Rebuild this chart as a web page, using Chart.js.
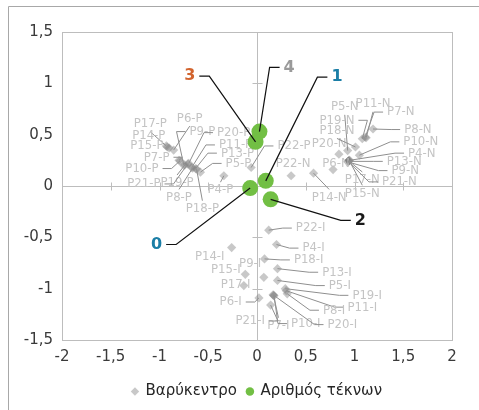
<!DOCTYPE html>
<html>
<head>
<meta charset="utf-8">
<script src="https://cdn.jsdelivr.net/npm/chart.js@4.4.0/dist/chart.umd.min.js"></script>
<style>
  html, body { margin: 0; padding: 0; background: #fff; }
  #wrap { width: 479px; height: 410px; }
</style>
</head>
<body>
<div id="wrap"><canvas id="chart" width="479" height="410"></canvas></div>
<script>
// Βαρύκεντρο points (P = left group, N = right group, I = lower group)
const pointNames = [
    'P17-P', 'P14-P', 'P15-P', 'P6-P', 'P7-P', 'P10-P', 'P9-P', 'P19-P', 'P20-P', 'P21-P', 'P11-P', 'P8-P', 'P13-P', 'P18-P', 'P5-P', 'P4-P', 'P22-P',
    'P22-N', 'P14-N', 'P6-N', 'P20-N', 'P5-N', 'P18-N', 'P19-N', 'P11-N', 'P7-N', 'P8-N', 'P10-N', 'P4-N', 'P13-N', 'P9-N', 'P17-N', 'P21-N', 'P15-N',
    'P22-I', 'P4-I', 'P14-I', 'P18-I', 'P13-I', 'P15-I', 'P9-I', 'P5-I', 'P17-I', 'P19-I', 'P11-I', 'P8-I', 'P6-I', 'P7-I', 'P10-I', 'P20-I', 'P21-I'
];
const pointX = [
    -0.93, -0.92, -0.90, -0.855, -0.80, -0.79, -0.75, -0.74, -0.70, -0.71, -0.67, -0.66, -0.63, -0.62, -0.58, -0.34, -0.06,
    0.35, 0.58, 0.78, 0.84, 0.93, 1.01, 1.08, 1.12, 1.11, 1.19, 1.05, 0.95, 0.94, 0.93, 0.94, 0.935, 0.945,
    0.12, 0.20, -0.26, 0.077, 0.21, -0.12, 0.07, 0.21, -0.135, 0.29, 0.30, 0.31, 0.02, 0.17, 0.175, 0.165, 0.14
];
const pointY = [
    0.39, 0.38, 0.37, 0.35, 0.25, 0.245, 0.20, 0.205, 0.22, 0.215, 0.18, 0.175, 0.17, 0.165, 0.135, 0.10, 0.18,
    0.10, 0.125, 0.16, 0.31, 0.345, 0.38, 0.46, 0.47, 0.475, 0.555, 0.30, 0.25, 0.24, 0.235, 0.245, 0.24, 0.25,
    -0.43, -0.57, -0.60, -0.71, -0.805, -0.86, -0.89, -0.92, -0.97, -1.0, -1.02, -1.05, -1.09, -1.065, -1.07, -1.06, -1.16
];
// where each point label sits (data units)
const pointLabelX = [
    -1.095, -1.11, -1.13, -0.69, -1.03, -1.18, -0.56, -0.82, -0.24, -1.16, -0.22, -0.80, -0.20, -0.56, -0.19, -0.375, 0.38,
    0.37, 0.74, 0.81, 0.74, 0.90, 0.82, 0.82, 1.19, 1.475, 1.65, 1.68, 1.69, 1.51, 1.52, 1.08, 1.46, 1.08,
    0.55, 0.58, -0.485, 0.53, 0.82, -0.32, -0.07, 0.85, -0.22, 1.13, 1.08, 0.79, -0.27, 0.22, 0.50, 0.875, -0.07
];
const pointLabelY = [
    0.605, 0.49, 0.39, 0.66, 0.28, 0.17, 0.53, 0.03, 0.52, 0.02, 0.40, -0.11, 0.32, -0.22, 0.22, -0.04, 0.39,
    0.22, -0.11, 0.22, 0.41, 0.77, 0.54, 0.64, 0.80, 0.72, 0.55, 0.43, 0.32, 0.24, 0.15, 0.06, 0.04, -0.07,
    -0.41, -0.605, -0.69, -0.72, -0.84, -0.815, -0.76, -0.97, -0.96, -1.065, -1.18, -1.21, -1.13, -1.36, -1.34, -1.35, -1.315
];

// Αριθμός τέκνων
const childNames = ['0', '1', '2', '3', '4'];
const childX = [-0.07, 0.09, 0.14, -0.015, 0.025];
const childY = [-0.02, 0.05, -0.13, 0.43, 0.53];
const childLabelX = [-1.03, 0.82, 1.06, -0.69, 0.33];
const childLabelY = [-0.57, 1.06, -0.335, 1.07, 1.155];
const childLabelColors = ['#1b7ea6', '#1b7ea6', '#1a1a1a', '#d2642e', '#9a9a9a'];

const seriesNames = ['Βαρύκεντρο', 'Αριθμός τέκνων'];

const tickFont = { family: 'DejaVu Sans', size: 15 };
const fmt = v => String(v).replace('.', ',');

// draw a text label, with a leader line back to its point when it sits away from it
function drawLabel(ctx, px, py, lx, ly, text, opts) {
    ctx.font = opts.font;
    const w = ctx.measureText(text).width;
    const h = opts.size * 0.75;
    const left = lx - w / 2, right = lx + w / 2;
    const top = ly - h / 2 - 1, bottom = ly + h / 2 + 1;
    const dx = Math.max(left - px, 0, px - right);
    const dy = Math.max(top - py, 0, py - bottom);
    if (Math.hypot(dx, dy) > opts.minDist) {
        ctx.strokeStyle = opts.lineColor;
        ctx.lineWidth = opts.lineWidth;
        ctx.beginPath();
        if (px < left - 4) {
            ctx.moveTo(left - 4, ly);
            ctx.lineTo(left - 4 - opts.stub, ly);
            ctx.lineTo(px, py);
        } else if (px > right + 4) {
            ctx.moveTo(right + 4, ly);
            ctx.lineTo(right + 4 + opts.stub, ly);
            ctx.lineTo(px, py);
        } else {
            ctx.moveTo(lx, py < top ? top - 2 : bottom + 2);
            ctx.lineTo(px, py);
        }
        ctx.stroke();
    }
    ctx.fillStyle = opts.color;
    ctx.textAlign = 'center';
    ctx.textBaseline = 'middle';
    ctx.fillText(text, lx, ly);
}

const frameAndAxes = {
    id: 'frameAndAxes',
    beforeDraw(chart) {
        const ctx = chart.ctx;
        ctx.save();
        ctx.strokeStyle = '#a8a8a8';
        ctx.lineWidth = 1;
        ctx.beginPath();
        ctx.moveTo(8.5, 410);
        ctx.lineTo(8.5, 6.5);
        ctx.lineTo(479, 6.5);
        ctx.stroke();
        ctx.restore();
    },
    beforeDatasetsDraw(chart) {
        const { ctx, chartArea: a, scales: { x, y } } = chart;
        ctx.save();
        ctx.strokeStyle = '#bdbdbd';
        ctx.lineWidth = 1;
        const l = Math.round(a.left) + 0.5, r = Math.round(a.right) + 0.5;
        const t = Math.round(a.top) + 0.5, b = Math.round(a.bottom) + 0.5;
        ctx.strokeRect(l, t, r - l, b - t);
        const x0 = Math.round(x.getPixelForValue(0)) + 0.5;
        const y0 = Math.round(y.getPixelForValue(0)) + 0.5;
        ctx.beginPath();
        ctx.moveTo(l, y0); ctx.lineTo(r, y0);
        ctx.moveTo(x0, t); ctx.lineTo(x0, b);
        x.ticks.forEach(tk => {
            if (tk.value === 0 || tk.value === x.min || tk.value === x.max) return;
            const p = Math.round(x.getPixelForValue(tk.value)) + 0.5;
            ctx.moveTo(p, y0 - 4); ctx.lineTo(p, y0 + 4);
        });
        y.ticks.forEach(tk => {
            if (tk.value === 0 || tk.value === y.min || tk.value === y.max) return;
            const p = Math.round(y.getPixelForValue(tk.value)) + 0.5;
            ctx.moveTo(x0 - 5, p); ctx.lineTo(x0 + 5, p);
        });
        ctx.stroke();
        ctx.restore();
    },
    afterDatasetDraw(chart, args) {
        const { ctx, scales: { x, y } } = chart;
        ctx.save();
        if (args.index === 0) {
            pointNames.forEach((name, i) => {
                drawLabel(ctx, x.getPixelForValue(pointX[i]), y.getPixelForValue(pointY[i]),
                    x.getPixelForValue(pointLabelX[i]), y.getPixelForValue(pointLabelY[i]), name, {
                        font: '13px "DejaVu Sans Condensed", "Liberation Sans Narrow", "Noto Sans"',
                        size: 13, color: '#c4c4c4', lineColor: '#8f8f8f', lineWidth: 1, stub: 9, minDist: 8
                    });
            });
        } else {
            childNames.forEach((name, i) => {
                drawLabel(ctx, x.getPixelForValue(childX[i]), y.getPixelForValue(childY[i]),
                    x.getPixelForValue(childLabelX[i]), y.getPixelForValue(childLabelY[i]), name, {
                        font: 'bold 16px "DejaVu Sans"',
                        size: 16, color: childLabelColors[i], lineColor: '#111', lineWidth: 1.2, stub: 10, minDist: 8
                    });
            });
        }
        ctx.restore();
    }
};

new Chart(document.getElementById('chart'), {
    type: 'scatter',
    data: {
        datasets: [{
            label: seriesNames[0],
            data: pointX.map((v, i) => ({ x: v, y: pointY[i] })),
            pointStyle: 'rectRot',
            pointRadius: 4.6,
            backgroundColor: 'rgba(125,125,125,0.42)',
            borderWidth: 0,
            order: 2
        }, {
            label: seriesNames[1],
            data: childX.map((v, i) => ({ x: v, y: childY[i] })),
            pointStyle: 'circle',
            pointRadius: 8,
            backgroundColor: '#72bf44',
            borderWidth: 0,
            order: 1
        }]
    },
    options: {
        responsive: false,
        animation: false,
        layout: { padding: { left: 8, top: 32, right: 27, bottom: 1 } },
        plugins: {
            legend: {
                position: 'bottom',
                fullSize: false,
                labels: {
                    usePointStyle: true,
                    boxWidth: 6,
                    boxHeight: 6,
                    padding: 10,
                    color: '#262626',
                    font: { family: 'DejaVu Sans', size: 15 },
                    sort: (a, b) => a.datasetIndex - b.datasetIndex
                }
            },
            tooltip: { enabled: false }
        },
        scales: {
            x: {
                type: 'linear',
                min: -2, max: 2,
                ticks: { stepSize: 0.5, callback: fmt, font: tickFont, color: '#3a3a3a', padding: 8, maxRotation: 0 },
                grid: { display: false, drawTicks: false },
                border: { display: false },
                afterFit(s) { s.height = 34; }
            },
            y: {
                type: 'linear',
                min: -1.5, max: 1.5,
                ticks: { stepSize: 0.5, callback: fmt, font: tickFont, color: '#3a3a3a', padding: 9 },
                grid: { display: false, drawTicks: false },
                border: { display: false },
                afterFit(s) { s.width = 54; }
            }
        }
    },
    plugins: [frameAndAxes]
});
</script>
</body>
</html>
